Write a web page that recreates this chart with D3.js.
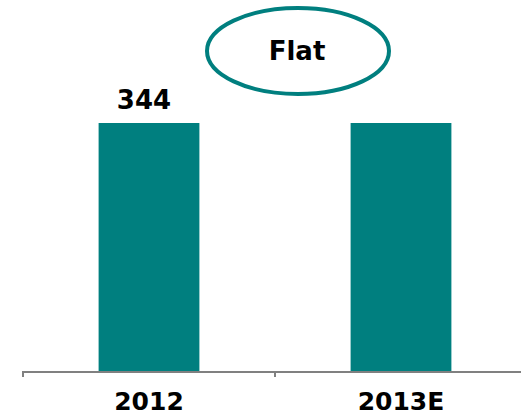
<!DOCTYPE html>
<html>
<head>
<meta charset="utf-8">
<script src="https://cdn.jsdelivr.net/npm/d3@7"></script>
<style>
  body { margin: 0; background: #fff; }
  text { font-family: "DejaVu Sans", Verdana, sans-serif; font-weight: bold; }
</style>
</head>
<body>
<svg width="521" height="416"></svg>
<script>
'use strict';

let categories = ["2012", "2013E"];
let values = [344, 344];
let valueLabels = ["344", ""];
let callout = "Flat";

let svg = d3.select("svg");
let teal = "#007F7F";

let x = d3.scaleBand()
    .domain(categories)
    .range([23, 527])
    .paddingInner(0.6)
    .paddingOuter(0.3);

let y = d3.scaleLinear()
    .domain([0, 344])
    .range([371, 123]);

svg.append("g")
    .selectAll("rect")
    .data(categories)
    .enter().append("rect")
    .attr("x", function(d) { return x(d); })
    .attr("y", function(d, i) { return y(values[i]); })
    .attr("width", x.bandwidth())
    .attr("height", function(d, i) { return y(0) - y(values[i]); })
    .attr("fill", teal);

// axis line with ticks between categories
let axis = svg.append("g");
axis.append("line")
    .attr("x1", 23).attr("x2", 527)
    .attr("y1", 372).attr("y2", 372)
    .attr("stroke", "#808080")
    .attr("stroke-width", 2);
[23, 23 + 504 / 2].forEach(function(tx) {
    axis.append("line")
        .attr("x1", tx).attr("x2", tx)
        .attr("y1", 371).attr("y2", 377)
        .attr("stroke", "#808080")
        .attr("stroke-width", 2);
});

svg.append("g")
    .selectAll("text")
    .data(categories)
    .enter().append("text")
    .attr("x", function(d) { return x(d) + x.bandwidth() / 2; })
    .attr("y", 410)
    .attr("text-anchor", "middle")
    .attr("font-size", "25px")
    .attr("fill", "#000")
    .text(function(d) { return d; });

svg.append("g")
    .selectAll("text")
    .data(categories)
    .enter().append("text")
    .attr("x", function(d) { return x(d) + x.bandwidth() / 2 - 5; })
    .attr("y", function(d, i) { return y(values[i]) - 14; })
    .attr("text-anchor", "middle")
    .attr("font-size", "26px")
    .attr("fill", "#000")
    .text(function(d, i) { return valueLabels[i]; });

// callout ellipse
svg.append("ellipse")
    .attr("cx", 298).attr("cy", 51)
    .attr("rx", 91).attr("ry", 43)
    .attr("fill", "none")
    .attr("stroke", teal)
    .attr("stroke-width", 4);

svg.append("text")
    .attr("x", 297).attr("y", 60)
    .attr("text-anchor", "middle")
    .attr("font-size", "26px")
    .attr("fill", "#000")
    .text(callout);
</script>
</body>
</html>
